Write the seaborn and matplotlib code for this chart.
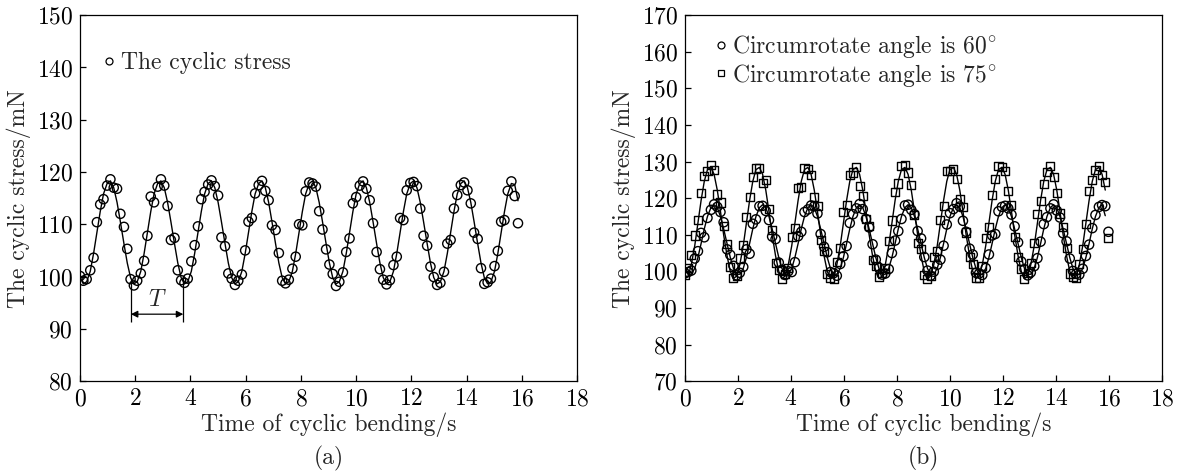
import matplotlib
matplotlib.use("Agg")
import numpy as np
import pandas as pd
import matplotlib.pyplot as plt
import seaborn as sns
from matplotlib.lines import Line2D

# -------------------------------
# data
# -------------------------------
nan = np.nan

time_s = [
    0.00, 0.12, 0.24, 0.37, 0.49, 0.61, 0.73, 0.85, 0.98, 1.10, 1.22, 1.34, 1.46, 1.59, 1.71,
    1.83, 1.95, 2.07, 2.20, 2.32, 2.44, 2.56, 2.68, 2.81, 2.93, 3.05, 3.17, 3.29, 3.42, 3.54,
    3.66, 3.78, 3.90, 4.03, 4.15, 4.27, 4.39, 4.51, 4.64, 4.76, 4.88, 5.00, 5.12, 5.25, 5.37,
    5.49, 5.61, 5.73, 5.86, 5.98, 6.10, 6.22, 6.34, 6.47, 6.59, 6.71, 6.83, 6.95, 7.08, 7.20,
    7.32, 7.44, 7.56, 7.69, 7.81, 7.93, 8.05, 8.17, 8.30, 8.42, 8.54, 8.66, 8.78, 8.91, 9.03,
    9.15, 9.27, 9.39, 9.52, 9.64, 9.76, 9.88, 10.00, 10.13, 10.25, 10.37, 10.49, 10.61, 10.74, 10.86,
    10.98, 11.10, 11.22, 11.35, 11.47, 11.59, 11.71, 11.83, 11.96, 12.08, 12.20, 12.32, 12.44, 12.57, 12.69,
    12.81, 12.93, 13.05, 13.18, 13.30, 13.42, 13.54, 13.66, 13.79, 13.91, 14.03, 14.15, 14.27, 14.40, 14.52,
    14.64, 14.76, 14.88, 15.01, 15.13, 15.25, 15.37, 15.49, 15.62, 15.74, 15.86, 15.98,
]

# (a) measured cyclic stress, mN
stress_a = [
    100.1, 99.2, 99.5, 101.2, 103.6, 110.4, 113.8, 114.8, 117.4, 118.6, 117.0, 116.8, 112.0, 109.5, 105.3,
    99.5, 98.3, 99.2, 100.6, 103.0, 107.8, 115.3, 114.2, 117.2, 118.6, 117.4, 113.5, 107.0, 107.4, 101.2,
    99.3, 98.8, 99.6, 102.9, 106.0, 109.6, 114.8, 116.2, 117.6, 118.4, 117.3, 115.5, 107.5, 105.8, 100.6,
    99.6, 98.4, 99.2, 100.4, 105.0, 110.5, 111.2, 115.9, 117.5, 118.3, 116.4, 114.6, 109.8, 108.9, 104.5,
    99.2, 98.7, 99.4, 101.5, 103.8, 110.0, 109.8, 116.3, 118.0, 117.8, 117.2, 112.5, 109.0, 105.2, 102.3,
    100.5, 98.2, 99.0, 100.8, 104.7, 107.3, 114.0, 115.2, 117.4, 118.2, 116.8, 114.6, 110.2, 104.7, 101.4,
    99.4, 98.5, 99.3, 102.2, 103.8, 111.2, 110.8, 116.5, 117.9, 118.1, 117.3, 113.0, 107.8, 105.9, 101.9,
    99.9, 98.4, 98.8, 100.9, 106.3, 107.0, 113.0, 115.6, 117.5, 118.0, 116.5, 114.0, 108.4, 107.2, 101.6,
    98.6, 98.9, 99.6, 102.0, 104.9, 110.5, 110.8, 116.4, 118.2, 115.4, 110.2, nan,
]

# (a) fitted curve
fit_a = [
    99.8, 98.6, 99.0, 101.0, 104.4, 108.4, 112.4, 115.8, 117.8, 118.3, 117.0, 114.2, 110.5, 106.3, 102.6,
    99.8, 98.6, 99.0, 101.0, 104.4, 108.4, 112.4, 115.8, 117.8, 118.3, 117.0, 114.2, 110.5, 106.3, 102.6,
    99.8, 98.6, 99.0, 101.0, 104.4, 108.4, 112.4, 115.8, 117.8, 118.3, 117.0, 114.2, 110.5, 106.3, 102.6,
    99.8, 98.6, 99.0, 101.0, 104.4, 108.4, 112.4, 115.8, 117.8, 118.3, 117.0, 114.2, 110.5, 106.3, 102.6,
    99.8, 98.6, 99.0, 101.0, 104.4, 108.4, 112.4, 115.8, 117.8, 118.3, 117.0, 114.2, 110.5, 106.3, 102.6,
    99.8, 98.6, 99.0, 101.0, 104.4, 108.4, 112.4, 115.8, 117.8, 118.3, 117.0, 114.2, 110.5, 106.3, 102.6,
    99.8, 98.6, 99.0, 101.0, 104.4, 108.4, 112.4, 115.8, 117.8, 118.3, 117.0, 114.2, 110.5, 106.3, 102.6,
    99.8, 98.6, 99.0, 101.0, 104.4, 108.4, 112.4, 115.8, 117.8, 118.3, 117.0, 114.2, 110.5, 106.3, 102.6,
    99.8, 98.6, 99.0, 101.0, 104.4, 108.4, 112.4, 115.8, 117.8, 117.6, 114.5, nan,
]

# (b) circumrotate angle 60 deg
stress_b60 = [
    99.5, 99.8, 100.2, 103.5, 105.5, 110.5, 109.3, 114.6, 116.8, 118.3, 117.6, 116.2, 113.4, 106.0, 104.5,
    101.5, 98.9, 99.6, 101.2, 106.0, 104.8, 113.0, 114.2, 117.8, 117.9, 116.5, 114.0, 109.5, 108.8, 102.4,
    100.4, 99.0, 100.0, 99.8, 102.5, 109.6, 110.8, 116.2, 116.9, 118.0, 117.8, 115.8, 110.2, 106.7, 105.2,
    99.8, 99.5, 98.8, 102.0, 104.1, 106.9, 113.2, 115.6, 117.2, 118.4, 117.0, 114.3, 112.0, 107.4, 103.2,
    101.0, 99.1, 99.4, 100.6, 105.0, 108.4, 111.0, 114.3, 118.0, 118.2, 116.8, 115.6, 111.0, 109.0, 103.9,
    100.2, 98.8, 99.9, 101.8, 103.2, 107.0, 112.8, 115.9, 117.0, 118.6, 117.7, 113.8, 110.8, 106.2, 104.6,
    99.6, 99.4, 99.0, 100.9, 104.6, 109.8, 110.2, 116.4, 117.6, 117.9, 117.2, 115.5, 112.3, 107.9, 102.7,
    100.6, 98.9, 99.7, 101.4, 103.6, 108.1, 112.9, 114.8, 117.2, 118.3, 116.6, 114.7, 110.4, 108.2, 103.5,
    100.1, 99.3, 99.1, 100.7, 104.2, 107.3, 111.8, 115.4, 117.6, 118.1, 117.8, 110.8,
]

fit_b60 = [
    100.8, 99.2, 99.2, 100.8, 103.8, 107.6, 111.6, 115.0, 117.4, 118.2, 117.4, 115.0, 111.6, 107.6, 103.8,
    100.8, 99.2, 99.2, 100.8, 103.8, 107.6, 111.6, 115.0, 117.4, 118.2, 117.4, 115.0, 111.6, 107.6, 103.8,
    100.8, 99.2, 99.2, 100.8, 103.8, 107.6, 111.6, 115.0, 117.4, 118.2, 117.4, 115.0, 111.6, 107.6, 103.8,
    100.8, 99.2, 99.2, 100.8, 103.8, 107.6, 111.6, 115.0, 117.4, 118.2, 117.4, 115.0, 111.6, 107.6, 103.8,
    100.8, 99.2, 99.2, 100.8, 103.8, 107.6, 111.6, 115.0, 117.4, 118.2, 117.4, 115.0, 111.6, 107.6, 103.8,
    100.8, 99.2, 99.2, 100.8, 103.8, 107.6, 111.6, 115.0, 117.4, 118.2, 117.4, 115.0, 111.6, 107.6, 103.8,
    100.8, 99.2, 99.2, 100.8, 103.8, 107.6, 111.6, 115.0, 117.4, 118.2, 117.4, 115.0, 111.6, 107.6, 103.8,
    100.8, 99.2, 99.2, 100.8, 103.8, 107.6, 111.6, 115.0, 117.4, 118.2, 117.4, 115.0, 111.6, 107.6, 103.8,
    100.8, 99.2, 99.2, 100.8, 103.8, 107.6, 111.6, 115.0, 117.4, 118.2, 115.2, nan,
]

# (b) circumrotate angle 75 deg
stress_b75 = [
    99.0, 100.8, 104.5, 109.8, 114.0, 121.5, 126.0, 127.5, 129.0, 127.8, 121.0, 118.8, 112.5, 107.5, 101.2,
    98.2, 98.6, 103.5, 107.2, 114.8, 120.3, 125.7, 128.1, 128.3, 124.2, 125.0, 117.0, 111.2, 102.3, 100.4,
    97.8, 99.3, 101.0, 109.5, 111.8, 122.8, 123.0, 128.2, 127.9, 126.2, 120.4, 117.8, 108.6, 105.5, 99.3,
    98.1, 98.0, 102.6, 106.3, 116.2, 118.0, 126.4, 127.0, 128.6, 123.2, 120.7, 114.2, 112.4, 103.0, 101.5,
    98.4, 99.6, 100.9, 108.4, 113.9, 121.7, 124.0, 128.7, 129.1, 127.0, 123.5, 115.3, 107.8, 106.1, 99.0,
    97.9, 98.8, 103.8, 105.6, 114.0, 117.8, 127.3, 127.4, 128.0, 125.2, 119.7, 117.5, 110.6, 104.0, 102.0,
    98.3, 98.2, 101.4, 109.1, 112.0, 120.8, 125.2, 128.9, 128.5, 127.5, 122.0, 118.0, 109.4, 103.8, 100.6,
    97.8, 99.5, 102.2, 107.8, 115.6, 119.2, 123.8, 127.2, 128.8, 125.8, 121.5, 115.8, 112.2, 106.4, 99.4,
    98.4, 98.1, 101.9, 106.0, 113.0, 122.0, 125.0, 127.6, 128.7, 126.2, 124.5, 109.2,
]

fit_b75 = [
    98.0, 98.7, 101.8, 107.0, 113.2, 119.4, 124.6, 127.8, 128.4, 126.5, 122.2, 116.4, 110.0, 104.2, 100.0,
    98.0, 98.7, 101.8, 107.0, 113.2, 119.4, 124.6, 127.8, 128.4, 126.5, 122.2, 116.4, 110.0, 104.2, 100.0,
    98.0, 98.7, 101.8, 107.0, 113.2, 119.4, 124.6, 127.8, 128.4, 126.5, 122.2, 116.4, 110.0, 104.2, 100.0,
    98.0, 98.7, 101.8, 107.0, 113.2, 119.4, 124.6, 127.8, 128.4, 126.5, 122.2, 116.4, 110.0, 104.2, 100.0,
    98.0, 98.7, 101.8, 107.0, 113.2, 119.4, 124.6, 127.8, 128.4, 126.5, 122.2, 116.4, 110.0, 104.2, 100.0,
    98.0, 98.7, 101.8, 107.0, 113.2, 119.4, 124.6, 127.8, 128.4, 126.5, 122.2, 116.4, 110.0, 104.2, 100.0,
    98.0, 98.7, 101.8, 107.0, 113.2, 119.4, 124.6, 127.8, 128.4, 126.5, 122.2, 116.4, 110.0, 104.2, 100.0,
    98.0, 98.7, 101.8, 107.0, 113.2, 119.4, 124.6, 127.8, 128.4, 126.5, 122.2, 116.4, 110.0, 104.2, 100.0,
    98.0, 98.7, 101.8, 107.0, 113.2, 119.4, 124.6, 127.8, 128.4, 126.5, 122.2, nan,
]

# one period marked on panel (a)
period_start, period_end = 1.84, 3.74

# -------------------------------
# style
# -------------------------------
sns.set_style("ticks")
plt.rcParams["font.family"] = ["cmr10", "DejaVu Serif"]
plt.rcParams["mathtext.fontset"] = "cm"
plt.rcParams["axes.formatter.use_mathtext"] = True
plt.rcParams["axes.unicode_minus"] = False
plt.rcParams["font.size"] = 17
plt.rcParams["axes.linewidth"] = 0.9
plt.rcParams["axes.edgecolor"] = "black"

fig = plt.figure(figsize=(11.84, 4.74), dpi=100)
ax_a = fig.add_axes([0.0676, 0.196, 0.4198, 0.772])
ax_b = fig.add_axes([0.5785, 0.196, 0.4029, 0.772])

df_a = pd.DataFrame({"time": time_s, "stress": stress_a, "fit": fit_a})
df_b = pd.DataFrame({"time": time_s, "s60": stress_b60, "f60": fit_b60,
                     "s75": stress_b75, "f75": fit_b75})


def hollow(ax):
    coll = ax.collections[-1]
    coll.set_facecolor("none")
    coll.set_edgecolor("black")


# -------------------------------
# (a)
# -------------------------------
sns.lineplot(data=df_a.dropna(subset=["fit"]), x="time", y="fit", color="black",
             lw=1.0, sort=False, estimator=None, ax=ax_a)
sns.scatterplot(data=df_a.dropna(subset=["stress"]), x="time", y="stress", marker="o",
                s=44, color="black", edgecolor="black", linewidth=1.0, ax=ax_a)
hollow(ax_a)

ax_a.vlines([period_start, period_end], 91.3, 99.5, color="black", lw=0.9)
ax_a.annotate("", xy=(period_start, 92.8), xytext=(period_end, 92.8),
              arrowprops=dict(arrowstyle="<|-|>", color="black", lw=0.9,
                              shrinkA=0, shrinkB=0, mutation_scale=10))
ax_a.text((period_start + period_end) / 2, 93.4, "$T$", ha="center", va="bottom")

ax_a.set_xlim(0, 18)
ax_a.set_ylim(80, 150)
ax_a.set_xticks(range(0, 19, 2))
ax_a.set_yticks(range(80, 151, 10))
ax_a.set_xlabel("Time of cyclic bending/s", labelpad=2)
ax_a.set_ylabel("The cyclic stress/mN", labelpad=4)
h_a = Line2D([], [], marker="o", ls="none", mfc="none", mec="black", ms=5, mew=0.9)
ax_a.legend([h_a], ["The cyclic stress"], loc="upper left", bbox_to_anchor=(0.045, 0.9),
            frameon=False, handlelength=0.6, handletextpad=0.2, borderaxespad=0, borderpad=0)
ax_a.text(0.5, -0.178, "(a)", transform=ax_a.transAxes, ha="center", va="top")

# -------------------------------
# (b)
# -------------------------------
for fcol in ["f60", "f75"]:
    sns.lineplot(data=df_b.dropna(subset=[fcol]), x="time", y=fcol, color="black",
                 lw=1.0, sort=False, estimator=None, ax=ax_b)
sns.scatterplot(data=df_b, x="time", y="s60", marker="o", s=44, color="black",
                edgecolor="black", linewidth=1.0, ax=ax_b)
hollow(ax_b)
sns.scatterplot(data=df_b, x="time", y="s75", marker="s", s=34, color="black",
                edgecolor="black", linewidth=1.0, ax=ax_b)
hollow(ax_b)

ax_b.set_xlim(0, 18)
ax_b.set_ylim(70, 170)
ax_b.set_xticks(range(0, 19, 2))
ax_b.set_yticks(range(70, 171, 10))
ax_b.set_xlabel("Time of cyclic bending/s", labelpad=2)
ax_b.set_ylabel("The cyclic stress/mN", labelpad=4)
h60 = Line2D([], [], marker="o", ls="none", mfc="none", mec="black", ms=5, mew=0.9)
h75 = Line2D([], [], marker="s", ls="none", mfc="none", mec="black", ms=4.5, mew=0.9)
ax_b.legend([h60, h75], ["Circumrotate angle is 60$^{\\circ}$", "Circumrotate angle is 75$^{\\circ}$"],
            loc="upper left", bbox_to_anchor=(0.06, 0.95), frameon=False, handlelength=0.6,
            handletextpad=0.2, borderaxespad=0, borderpad=0, labelspacing=0.05)
ax_b.text(0.5, -0.178, "(b)", transform=ax_b.transAxes, ha="center", va="top")

for ax in (ax_a, ax_b):
    ax.tick_params(direction="in", length=4, width=0.9, pad=5, top=False, right=False,
                   colors="black")
    for sp in ax.spines.values():
        sp.set_visible(True)
        sp.set_color("black")

fig.savefig("out.png", dpi=100)
